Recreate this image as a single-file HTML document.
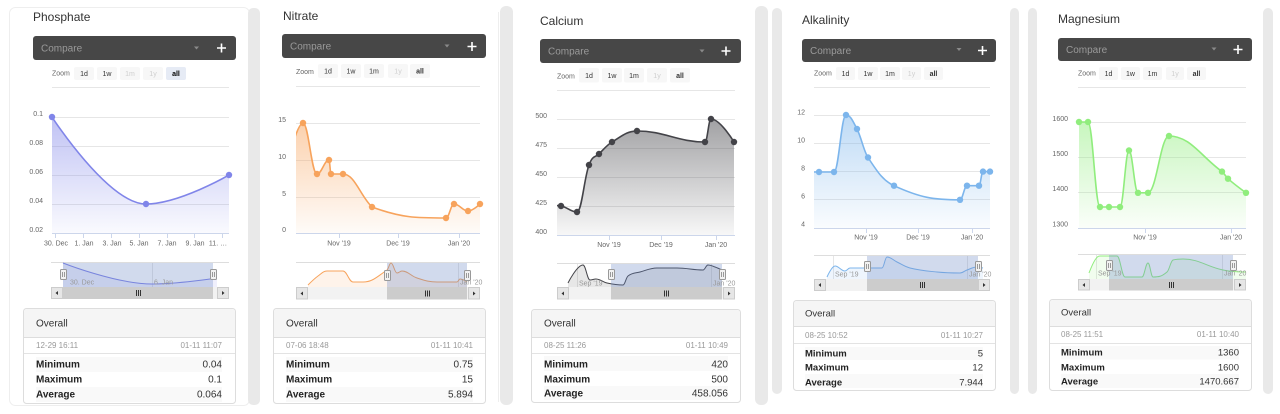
<!DOCTYPE html>
<html><head><meta charset="utf-8">
<style>
html,body{margin:0;padding:0;background:#fff;}
svg{display:block;font-family:"Liberation Sans",Arial,sans-serif;}
.t{font-size:12px;fill:#333}
.cmp{font-size:10px;fill:#9a9a9a}
.zl{font-size:7px;fill:#666}
.zb{font-size:7px;fill:#333;text-anchor:middle}
.zs{font-size:7px;fill:#000;font-weight:bold;text-anchor:middle}
.zd{font-size:7px;fill:#cfcfcf;text-anchor:middle}
.yl{font-size:7px;fill:#666;text-anchor:end}
.xl{font-size:7px;fill:#666;text-anchor:middle}
.nl{font-size:7px;fill:#999}
.ov{font-size:10px;fill:#333}
.dt{font-size:8px;fill:#999}
.dr{font-size:8px;fill:#999;text-anchor:end}
.lb{font-size:10px;font-weight:bold;fill:#222}
.vl{font-size:10px;fill:#333;text-anchor:end}
.ov2{font-size:9.5px;fill:#333}
.lb2{font-size:9.5px;font-weight:bold;fill:#222}
.vl2{font-size:9.5px;fill:#333;text-anchor:end}
</style></head><body>
<svg id="cv" xmlns="http://www.w3.org/2000/svg" width="1280" height="414" viewBox="0 0 1280 414">
<defs>
<linearGradient id="gA" x1="0" y1="0" x2="0" y2="1"><stop offset="0" stop-color="#8085e9" stop-opacity="0.5"/><stop offset="1" stop-color="#8085e9" stop-opacity="0.04"/></linearGradient>
<linearGradient id="gB" x1="0" y1="0" x2="0" y2="1"><stop offset="0" stop-color="#f7a35c" stop-opacity="0.5"/><stop offset="1" stop-color="#f7a35c" stop-opacity="0.04"/></linearGradient>
<linearGradient id="gC" x1="0" y1="0" x2="0" y2="1"><stop offset="0" stop-color="#434348" stop-opacity="0.5"/><stop offset="1" stop-color="#434348" stop-opacity="0.04"/></linearGradient>
<linearGradient id="gD" x1="0" y1="0" x2="0" y2="1"><stop offset="0" stop-color="#7cb5ec" stop-opacity="0.5"/><stop offset="1" stop-color="#7cb5ec" stop-opacity="0.04"/></linearGradient>
<linearGradient id="gE" x1="0" y1="0" x2="0" y2="1"><stop offset="0" stop-color="#90ed7d" stop-opacity="0.5"/><stop offset="1" stop-color="#90ed7d" stop-opacity="0.04"/></linearGradient>
<clipPath id="c1"><rect x="52" y="80" width="177" height="154"/></clipPath>
<clipPath id="c2"><rect x="296" y="80" width="184" height="154"/></clipPath>
<clipPath id="c3"><rect x="557" y="82" width="178" height="154"/></clipPath>
<clipPath id="c4"><rect x="814" y="80" width="176" height="148"/></clipPath>
<clipPath id="c5"><rect x="1078" y="80" width="168" height="148"/></clipPath>
</defs>

<!-- frames -->
<rect x="9.5" y="7.5" width="240" height="398" rx="6" fill="#fff" stroke="#eee"/>
<rect x="248" y="8" width="12" height="397" rx="5" fill="#e9e9e9"/>
<line x1="498.5" y1="12" x2="498.5" y2="402" stroke="#eee"/>
<rect x="500" y="6" width="13" height="399" rx="6" fill="#e9e9e9"/>
<rect x="755" y="6" width="13" height="399" rx="6" fill="#e9e9e9"/>
<rect x="772" y="8" width="10" height="386" rx="5" fill="#e9e9e9"/>
<rect x="1010" y="8" width="9" height="386" rx="5" fill="#e9e9e9"/>
<rect x="1028" y="8" width="9" height="386" rx="5" fill="#e9e9e9"/>
<rect x="1263" y="8" width="10" height="386" rx="5" fill="#e9e9e9"/>

<!-- ================= PANEL 1 : Phosphate ================= -->
<text class="t" x="33" y="21">Phosphate</text>
<rect x="33" y="36" width="203" height="24" rx="3" fill="#474747"/>
<text class="cmp" x="41" y="51.5">Compare</text>
<path d="M194 46.5h5l-2.5 3z" fill="#8a8a8a"/>
<path d="M217 48h9M221.5 43.5v9" stroke="#fff" stroke-width="1.6"/>
<text class="zl" x="52" y="75.5">Zoom</text>
<rect x="74" y="67" width="20" height="13" rx="2" fill="#f7f7f7"/>
<rect x="97" y="67" width="20" height="13" rx="2" fill="#f7f7f7"/>
<rect x="120" y="67" width="20" height="13" rx="2" fill="#f7f7f7"/>
<rect x="143" y="67" width="20" height="13" rx="2" fill="#f7f7f7"/>
<rect x="166" y="67" width="20" height="13" rx="2" fill="#e6ebf5"/>
<text class="zb" x="84" y="76">1d</text><text class="zb" x="107" y="76">1w</text><text class="zd" x="130" y="76">1m</text><text class="zd" x="153" y="76">1y</text><text class="zs" x="176" y="76">all</text>
<g stroke="#e6e6e6"><line x1="52" y1="87.5" x2="229" y2="87.5"/><line x1="52" y1="117.5" x2="229" y2="117.5"/><line x1="52" y1="146.5" x2="229" y2="146.5"/><line x1="52" y1="175.5" x2="229" y2="175.5"/><line x1="52" y1="204.5" x2="229" y2="204.5"/></g>
<text class="yl" x="43" y="116">0.1</text><text class="yl" x="43" y="145">0.08</text><text class="yl" x="43" y="174">0.06</text><text class="yl" x="43" y="203">0.04</text><text class="yl" x="43" y="232">0.02</text>
<g id="m1"></g>
<line x1="52" y1="233.5" x2="229" y2="233.5" stroke="#ccd6eb"/>
<path d="M55.5 234v4M83.5 234v4M111.5 234v4M139.5 234v4M167.5 234v4M194.5 234v4M222.5 234v4" stroke="#ccd6eb"/>
<text class="xl" x="56" y="245.5">30. Dec</text><text class="xl" x="84" y="245.5">1. Jan</text><text class="xl" x="112" y="245.5">3. Jan</text><text class="xl" x="139" y="245.5">5. Jan</text><text class="xl" x="167" y="245.5">7. Jan</text><text class="xl" x="195" y="245.5">9. Jan</text><text class="xl" x="218" y="245.5">11. …</text>
<line x1="51" y1="262.5" x2="229" y2="262.5" stroke="#ddd"/>
<line x1="152.5" y1="263" x2="152.5" y2="287" stroke="#e6e6e6"/>
<g id="n1"></g>
<rect x="63" y="263" width="150" height="24" fill="rgba(102,133,194,0.3)"/>
<text class="nl" x="70" y="284.5">30. Dec</text><text class="nl" x="154" y="284.5">6. Jan</text>
<g fill="#f2f2f2" stroke="#999"><rect x="60.5" y="269.5" width="6" height="10" rx="1"/><rect x="210.5" y="269.5" width="6" height="10" rx="1"/></g>
<path d="M62.5 272v5M64.5 272v5M212.5 272v5M214.5 272v5" stroke="#999"/>
<rect x="51" y="287" width="178" height="12" fill="#f2f2f2"/>
<rect x="63" y="287" width="150" height="12" fill="#ccc"/>
<rect x="51.5" y="287.5" width="11" height="11" fill="#e6e6e6" stroke="#ccc"/>
<rect x="217.5" y="287.5" width="11" height="11" fill="#e6e6e6" stroke="#ccc"/>
<path d="M58 291l-2.5 2 2.5 2zM222 291l2.5 2-2.5 2z" fill="#333"/>
<path d="M136.5 290v6M138.5 290v6M140.5 290v6" stroke="#333"/>
<rect x="23.5" y="308.5" width="212" height="95" rx="3" fill="#fff" stroke="#ddd"/>
<path d="M24 337V312a3 3 0 0 1 3-3H232a3 3 0 0 1 3 3V337z" fill="#f5f5f5"/>
<line x1="24" y1="337.5" x2="235" y2="337.5" stroke="#ddd"/>
<text class="ov" x="36" y="326.5">Overall</text>
<text class="dt" x="36" y="348">12-29 16:11</text><text class="dr" x="222" y="348">01-11 11:07</text>
<line x1="24" y1="353.5" x2="235" y2="353.5" stroke="#e3e3e3"/>
<rect x="36" y="357" width="186" height="15" fill="#f9f9f9"/><rect x="36" y="387" width="186" height="15" fill="#f9f9f9"/>
<text class="lb" x="36" y="367.5">Minimum</text><text class="vl" x="222" y="367.5">0.04</text>
<text class="lb" x="36" y="382.5">Maximum</text><text class="vl" x="222" y="382.5">0.1</text>
<text class="lb" x="36" y="397.5">Average</text><text class="vl" x="222" y="397.5">0.064</text>

<!-- ================= PANEL 2 : Nitrate ================= -->
<text class="t" x="283" y="20">Nitrate</text>
<rect x="282" y="34" width="204" height="24" rx="3" fill="#474747"/>
<text class="cmp" x="290" y="49.5">Compare</text>
<path d="M444.5 44.5h5l-2.5 3z" fill="#8a8a8a"/>
<path d="M467.5 46.5h9M472 42v9" stroke="#fff" stroke-width="1.6"/>
<text class="zl" x="296" y="74">Zoom</text>
<rect x="318" y="64" width="20" height="14" rx="2" fill="#f7f7f7"/>
<rect x="341" y="64" width="20" height="14" rx="2" fill="#f7f7f7"/>
<rect x="364" y="64" width="20" height="14" rx="2" fill="#f7f7f7"/>
<rect x="388" y="64" width="20" height="14" rx="2" fill="#f7f7f7"/>
<rect x="410" y="64" width="20" height="14" rx="2" fill="#f7f7f7"/>
<text class="zb" x="328" y="73.5">1d</text><text class="zb" x="351" y="73.5">1w</text><text class="zb" x="374" y="73.5">1m</text><text class="zd" x="398" y="73.5">1y</text><text class="zb" x="420" y="73.5" font-weight="bold">all</text>
<g stroke="#e6e6e6"><line x1="296" y1="86.5" x2="480" y2="86.5"/><line x1="296" y1="123.5" x2="480" y2="123.5"/><line x1="296" y1="160.5" x2="480" y2="160.5"/><line x1="296" y1="197.5" x2="480" y2="197.5"/></g>
<text class="yl" x="286" y="122">15</text><text class="yl" x="286" y="159">10</text><text class="yl" x="286" y="196">5</text><text class="yl" x="286" y="232">0</text>
<g id="m2"></g>
<line x1="296" y1="233.5" x2="480" y2="233.5" stroke="#ccd6eb"/>
<path d="M339.5 234v4M398.5 234v4M459.5 234v4" stroke="#ccd6eb"/>
<text class="xl" x="339" y="245.5">Nov '19</text><text class="xl" x="398" y="245.5">Dec '19</text><text class="xl" x="459" y="245.5">Jan '20</text>
<line x1="296" y1="262.5" x2="480" y2="262.5" stroke="#ddd"/>
<line x1="458.5" y1="263" x2="458.5" y2="287" stroke="#e6e6e6"/>
<g id="n2"></g>
<rect x="387" y="263" width="80" height="24" fill="rgba(102,133,194,0.3)"/>
<text class="nl" x="460" y="284.5">Jan '20</text>
<g fill="#f2f2f2" stroke="#999"><rect x="384.5" y="270.5" width="6" height="10" rx="1"/><rect x="464.5" y="270.5" width="6" height="10" rx="1"/></g>
<path d="M386.5 273v5M388.5 273v5M466.5 273v5M468.5 273v5" stroke="#999"/>
<rect x="296" y="287" width="184" height="12.5" fill="#f2f2f2"/>
<rect x="387" y="287" width="80" height="12.5" fill="#ccc"/>
<rect x="296.5" y="287.5" width="11" height="11.5" fill="#e6e6e6" stroke="#ccc"/>
<rect x="468.5" y="287.5" width="11" height="11.5" fill="#e6e6e6" stroke="#ccc"/>
<path d="M303 291.5l-2.5 2 2.5 2zM473 291.5l2.5 2-2.5 2z" fill="#333"/>
<path d="M425.5 290.5v6M427.5 290.5v6M429.5 290.5v6" stroke="#333"/>
<rect x="273.5" y="308.5" width="212" height="95" rx="3" fill="#fff" stroke="#ddd"/>
<path d="M274 337V312a3 3 0 0 1 3-3H482a3 3 0 0 1 3 3V337z" fill="#f5f5f5"/>
<line x1="274" y1="337.5" x2="485" y2="337.5" stroke="#ddd"/>
<text class="ov" x="286" y="326.5">Overall</text>
<text class="dt" x="286" y="348">07-06 18:48</text><text class="dr" x="473" y="348">01-11 10:41</text>
<line x1="274" y1="353.5" x2="485" y2="353.5" stroke="#e3e3e3"/>
<rect x="286" y="357" width="187" height="15" fill="#f9f9f9"/><rect x="286" y="387" width="187" height="15" fill="#f9f9f9"/>
<text class="lb" x="286" y="367.5">Minimum</text><text class="vl" x="473" y="367.5">0.75</text>
<text class="lb" x="286" y="382.5">Maximum</text><text class="vl" x="473" y="382.5">15</text>
<text class="lb" x="286" y="397.5">Average</text><text class="vl" x="473" y="397.5">5.894</text>

<!-- ================= PANEL 3 : Calcium ================= -->
<text class="t" x="540" y="25">Calcium</text>
<rect x="540" y="39" width="201" height="24" rx="3" fill="#474747"/>
<text class="cmp" x="548" y="54.5">Compare</text>
<path d="M699.5 49.5h5l-2.5 3z" fill="#8a8a8a"/>
<path d="M721.5 51h9M726 46.5v9" stroke="#fff" stroke-width="1.6"/>
<text class="zl" x="557" y="78.5">Zoom</text>
<rect x="579" y="68" width="20" height="14.5" rx="2" fill="#f7f7f7"/>
<rect x="602" y="68" width="20" height="14.5" rx="2" fill="#f7f7f7"/>
<rect x="624" y="68" width="20" height="14.5" rx="2" fill="#f7f7f7"/>
<rect x="647" y="68" width="20" height="14.5" rx="2" fill="#f7f7f7"/>
<rect x="670" y="68" width="20" height="14.5" rx="2" fill="#f7f7f7"/>
<text class="zb" x="589" y="78">1d</text><text class="zb" x="612" y="78">1w</text><text class="zb" x="634" y="78">1m</text><text class="zd" x="657" y="78">1y</text><text class="zb" x="680" y="78" font-weight="bold">all</text>
<g stroke="#e6e6e6"><line x1="557" y1="90.5" x2="735" y2="90.5"/><line x1="557" y1="119.5" x2="735" y2="119.5"/><line x1="557" y1="148.5" x2="735" y2="148.5"/><line x1="557" y1="177.5" x2="735" y2="177.5"/><line x1="557" y1="206.5" x2="735" y2="206.5"/></g>
<text class="yl" x="547" y="118">500</text><text class="yl" x="547" y="147">475</text><text class="yl" x="547" y="176">450</text><text class="yl" x="547" y="205">425</text><text class="yl" x="547" y="234">400</text>
<g id="m3"></g>
<line x1="557" y1="235.5" x2="735" y2="235.5" stroke="#ccd6eb"/>
<path d="M609.5 236v4M661.5 236v4M716.5 236v4" stroke="#ccd6eb"/>
<text class="xl" x="609" y="247">Nov '19</text><text class="xl" x="661" y="247">Dec '19</text><text class="xl" x="716" y="247">Jan '20</text>
<line x1="557" y1="263.5" x2="735" y2="263.5" stroke="#ddd"/>
<line x1="577.5" y1="264" x2="577.5" y2="287" stroke="#e6e6e6"/><line x1="711.5" y1="264" x2="711.5" y2="287" stroke="#e6e6e6"/>
<g id="n3"></g>
<rect x="611" y="264" width="111" height="23" fill="rgba(102,133,194,0.3)"/>
<text class="nl" x="579" y="285.5">Sep '19</text><text class="nl" x="713" y="285.5">Jan '20</text>
<g fill="#f2f2f2" stroke="#999"><rect x="608.5" y="269.5" width="6" height="10" rx="1"/><rect x="719.5" y="269.5" width="6" height="10" rx="1"/></g>
<path d="M610.5 272v5M612.5 272v5M721.5 272v5M723.5 272v5" stroke="#999"/>
<rect x="557" y="287" width="178" height="12.5" fill="#f2f2f2"/>
<rect x="611" y="287" width="111" height="12.5" fill="#ccc"/>
<rect x="557.5" y="287.5" width="11" height="11.5" fill="#e6e6e6" stroke="#ccc"/>
<rect x="723.5" y="287.5" width="11" height="11.5" fill="#e6e6e6" stroke="#ccc"/>
<path d="M564 291.5l-2.5 2 2.5 2zM728 291.5l2.5 2-2.5 2z" fill="#333"/>
<path d="M664.5 290.5v6M666.5 290.5v6M668.5 290.5v6" stroke="#333"/>
<rect x="531.5" y="309.5" width="209" height="93" rx="3" fill="#fff" stroke="#ddd"/>
<path d="M532 337V313a3 3 0 0 1 3-3H737a3 3 0 0 1 3 3V337z" fill="#f5f5f5"/>
<line x1="532" y1="337.5" x2="740" y2="337.5" stroke="#ddd"/>
<text class="ov" x="544" y="326.5">Overall</text>
<text class="dt" x="544" y="348">08-25 11:26</text><text class="dr" x="728" y="348">01-11 10:49</text>
<line x1="532" y1="353.5" x2="740" y2="353.5" stroke="#e3e3e3"/>
<rect x="544" y="356" width="184" height="15" fill="#f9f9f9"/><rect x="544" y="386" width="184" height="14" fill="#f9f9f9"/>
<text class="lb" x="544" y="367.5">Minimum</text><text class="vl" x="728" y="367.5">420</text>
<text class="lb" x="544" y="382.5">Maximum</text><text class="vl" x="728" y="382.5">500</text>
<text class="lb" x="544" y="396.5">Average</text><text class="vl" x="728" y="396.5">458.056</text>

<!-- ================= PANEL 4 : Alkalinity ================= -->
<text class="t" x="802" y="24">Alkalinity</text>
<rect x="802" y="39" width="194" height="23" rx="3" fill="#474747"/>
<text class="cmp" x="810" y="54">Compare</text>
<path d="M956.5 48h5l-2.5 3z" fill="#8a8a8a"/>
<path d="M978 50.5h9M982.5 46v9" stroke="#fff" stroke-width="1.6"/>
<text class="zl" x="814" y="75.5">Zoom</text>
<rect x="836" y="67" width="19" height="13" rx="2" fill="#f7f7f7"/>
<rect x="858" y="67" width="20" height="13" rx="2" fill="#f7f7f7"/>
<rect x="880" y="67" width="20" height="13" rx="2" fill="#f7f7f7"/>
<rect x="902" y="67" width="19" height="13" rx="2" fill="#f7f7f7"/>
<rect x="924" y="67" width="19" height="13" rx="2" fill="#f7f7f7"/>
<text class="zb" x="845.5" y="76">1d</text><text class="zb" x="868" y="76">1w</text><text class="zb" x="890" y="76">1m</text><text class="zd" x="911.5" y="76">1y</text><text class="zb" x="933.5" y="76" font-weight="bold">all</text>
<g stroke="#e6e6e6"><line x1="814" y1="87.5" x2="990" y2="87.5"/><line x1="814" y1="115.5" x2="990" y2="115.5"/><line x1="814" y1="143.5" x2="990" y2="143.5"/><line x1="814" y1="171.5" x2="990" y2="171.5"/><line x1="814" y1="199.5" x2="990" y2="199.5"/></g>
<text class="yl" x="805" y="114.5">12</text><text class="yl" x="805" y="142.5">10</text><text class="yl" x="805" y="170.5">8</text><text class="yl" x="805" y="198.5">6</text><text class="yl" x="805" y="226.5">4</text>
<g id="m4"></g>
<line x1="814" y1="228.5" x2="990" y2="228.5" stroke="#ccd6eb"/>
<path d="M866.5 229v4M918.5 229v4M972.5 229v4" stroke="#ccd6eb"/>
<text class="xl" x="866" y="239.5">Nov '19</text><text class="xl" x="918" y="239.5">Dec '19</text><text class="xl" x="972" y="239.5">Jan '20</text>
<line x1="814" y1="255.5" x2="990" y2="255.5" stroke="#ddd"/>
<line x1="833.5" y1="256" x2="833.5" y2="279" stroke="#e6e6e6"/><line x1="967.5" y1="256" x2="967.5" y2="279" stroke="#e6e6e6"/>
<g id="n4"></g>
<rect x="867" y="256" width="111" height="23" fill="rgba(102,133,194,0.3)"/>
<text class="nl" x="835" y="276.5">Sep '19</text><text class="nl" x="969" y="276.5">Jan '20</text>
<g fill="#f2f2f2" stroke="#999"><rect x="864.5" y="261.5" width="6" height="10" rx="1"/><rect x="975.5" y="261.5" width="6" height="10" rx="1"/></g>
<path d="M866.5 264v5M868.5 264v5M977.5 264v5M979.5 264v5" stroke="#999"/>
<rect x="814" y="279" width="176" height="12" fill="#f2f2f2"/>
<rect x="867" y="279" width="111" height="12" fill="#ccc"/>
<rect x="814.5" y="279.5" width="11" height="11" fill="#e6e6e6" stroke="#ccc"/>
<rect x="978.5" y="279.5" width="11" height="11" fill="#e6e6e6" stroke="#ccc"/>
<path d="M821 283l-2.5 2 2.5 2zM983 283l2.5 2-2.5 2z" fill="#333"/>
<path d="M920.5 282v6M922.5 282v6M924.5 282v6" stroke="#333"/>
<rect x="793.5" y="300.5" width="202" height="90" rx="3" fill="#fff" stroke="#ddd"/>
<path d="M794 326V304a3 3 0 0 1 3-3H992a3 3 0 0 1 3 3V326z" fill="#f5f5f5"/>
<line x1="794" y1="326.5" x2="995" y2="326.5" stroke="#ddd"/>
<text class="ov2" x="805" y="316.5">Overall</text>
<text class="dt" x="805" y="338">08-25 10:52</text><text class="dr" x="983" y="338">01-11 10:27</text>
<line x1="794" y1="343.5" x2="995" y2="343.5" stroke="#e3e3e3"/>
<rect x="805" y="347" width="178" height="13" fill="#f9f9f9"/><rect x="805" y="374" width="178" height="14" fill="#f9f9f9"/>
<text class="lb2" x="805" y="356.5">Minimum</text><text class="vl2" x="983" y="356.5">5</text>
<text class="lb2" x="805" y="370.5">Maximum</text><text class="vl2" x="983" y="370.5">12</text>
<text class="lb2" x="805" y="385.5">Average</text><text class="vl2" x="983" y="385.5">7.944</text>

<!-- ================= PANEL 5 : Magnesium ================= -->
<text class="t" x="1058" y="23">Magnesium</text>
<rect x="1058" y="38" width="194" height="23" rx="3" fill="#474747"/>
<text class="cmp" x="1066" y="53">Compare</text>
<path d="M1211.5 47.5h5l-2.5 3z" fill="#8a8a8a"/>
<path d="M1233.5 49.5h9M1238 45v9" stroke="#fff" stroke-width="1.6"/>
<text class="zl" x="1078" y="75.5">Zoom</text>
<rect x="1099" y="67" width="19" height="13" rx="2" fill="#f7f7f7"/>
<rect x="1121" y="67" width="19" height="13" rx="2" fill="#f7f7f7"/>
<rect x="1143" y="67" width="19" height="13" rx="2" fill="#f7f7f7"/>
<rect x="1166" y="67" width="18" height="13" rx="2" fill="#f7f7f7"/>
<rect x="1187" y="67" width="19" height="13" rx="2" fill="#f7f7f7"/>
<text class="zb" x="1108.5" y="76">1d</text><text class="zb" x="1130.5" y="76">1w</text><text class="zb" x="1152.5" y="76">1m</text><text class="zd" x="1175" y="76">1y</text><text class="zb" x="1196.5" y="76" font-weight="bold">all</text>
<g stroke="#e6e6e6"><line x1="1078" y1="87.5" x2="1246" y2="87.5"/><line x1="1078" y1="122.5" x2="1246" y2="122.5"/><line x1="1078" y1="157.5" x2="1246" y2="157.5"/><line x1="1078" y1="192.5" x2="1246" y2="192.5"/></g>
<text class="yl" x="1068" y="121">1600</text><text class="yl" x="1068" y="156">1500</text><text class="yl" x="1068" y="191">1400</text><text class="yl" x="1068" y="226.5">1300</text>
<g id="m5"></g>
<line x1="1078" y1="228.5" x2="1246" y2="228.5" stroke="#ccd6eb"/>
<path d="M1145.5 229v4M1231.5 229v4" stroke="#ccd6eb"/>
<text class="xl" x="1145" y="239.5">Nov '19</text><text class="xl" x="1231" y="239.5">Jan '20</text>
<line x1="1078" y1="254.5" x2="1246" y2="254.5" stroke="#ddd"/>
<line x1="1096.5" y1="255" x2="1096.5" y2="279" stroke="#e6e6e6"/><line x1="1222.5" y1="255" x2="1222.5" y2="279" stroke="#e6e6e6"/>
<g id="n5"></g>
<rect x="1109" y="255" width="124" height="24" fill="rgba(102,133,194,0.3)"/>
<text class="nl" x="1098" y="275.5">Sep '19</text><text class="nl" x="1224" y="275.5">Jan '20</text>
<g fill="#f2f2f2" stroke="#999"><rect x="1106.5" y="260.5" width="6" height="10" rx="1"/><rect x="1230.5" y="260.5" width="6" height="10" rx="1"/></g>
<path d="M1108.5 263v5M1110.5 263v5M1232.5 263v5M1234.5 263v5" stroke="#999"/>
<rect x="1078" y="279" width="168" height="11.5" fill="#f2f2f2"/>
<rect x="1109" y="279" width="124" height="11.5" fill="#ccc"/>
<rect x="1078.5" y="279.5" width="11" height="10.5" fill="#e6e6e6" stroke="#ccc"/>
<rect x="1234.5" y="279.5" width="11" height="10.5" fill="#e6e6e6" stroke="#ccc"/>
<path d="M1085 283l-2.5 2 2.5 2zM1239 283l2.5 2-2.5 2z" fill="#333"/>
<path d="M1169.5 282v6M1171.5 282v6M1173.5 282v6" stroke="#333"/>
<rect x="1049.5" y="299.5" width="202" height="91" rx="3" fill="#fff" stroke="#ddd"/>
<path d="M1050 326V303a3 3 0 0 1 3-3H1248a3 3 0 0 1 3 3V326z" fill="#f5f5f5"/>
<line x1="1050" y1="326.5" x2="1251" y2="326.5" stroke="#ddd"/>
<text class="ov2" x="1061" y="315.5">Overall</text>
<text class="dt" x="1061" y="337">08-25 11:51</text><text class="dr" x="1239" y="337">01-11 10:40</text>
<line x1="1050" y1="343.5" x2="1251" y2="343.5" stroke="#e3e3e3"/>
<rect x="1061" y="346" width="178" height="13.5" fill="#f9f9f9"/><rect x="1061" y="374" width="178" height="14" fill="#f9f9f9"/>
<text class="lb2" x="1061" y="355.5">Minimum</text><text class="vl2" x="1239" y="355.5">1360</text>
<text class="lb2" x="1061" y="370.5">Maximum</text><text class="vl2" x="1239" y="370.5">1600</text>
<text class="lb2" x="1061" y="384.5">Average</text><text class="vl2" x="1239" y="384.5">1470.667</text>
</svg>
<script>
(function(){
var NS='http://www.w3.org/2000/svg';
function mk(t,a,p){var e=document.createElementNS(NS,t);for(var k in a)e.setAttribute(k,a[k]);p.appendChild(e);return e;}
function sp(p){
  var n=p.length,c=[];
  for(var i=0;i<n;i++){
    var x=p[i][0],y=p[i][1];
    if(i==0||i==n-1){c.push([x,y,x,y]);continue;}
    var lx=p[i-1][0],ly=p[i-1][1],nx=p[i+1][0],ny=p[i+1][1];
    var lcx=(1.5*x+lx)/2.5,lcy=(1.5*y+ly)/2.5,rcx=(1.5*x+nx)/2.5,rcy=(1.5*y+ny)/2.5;
    var cor=0;
    if(rcx!==lcx)cor=((rcy-lcy)*(rcx-x))/(rcx-lcx)+y-rcy;
    lcy+=cor;rcy+=cor;
    if(lcy>ly&&lcy>y){lcy=Math.max(ly,y);rcy=2*y-lcy;}
    else if(lcy<ly&&lcy<y){lcy=Math.min(ly,y);rcy=2*y-lcy;}
    if(rcy>ny&&rcy>y){rcy=Math.max(ny,y);lcy=2*y-rcy;}
    else if(rcy<ny&&rcy<y){rcy=Math.min(ny,y);lcy=2*y-rcy;}
    c.push([lcx,lcy,rcx,rcy]);
  }
  var d='M'+p[0][0]+' '+p[0][1];
  for(var j=1;j<n;j++){
    d+=' C'+c[j-1][2].toFixed(2)+' '+c[j-1][3].toFixed(2)+' '+c[j][0].toFixed(2)+' '+c[j][1].toFixed(2)+' '+p[j][0]+' '+p[j][1];
  }
  return d;
}
var M=[
['m1','#8085e9','gA',233.5,52,229,[[52,117],[146,204],[229,175]]],
['m2','#f7a35c','gB',233.5,296,480,[[291,150],[303,123],[317,174],[329,160],[331,174],[343,174],[372,207],[446,218],[454,204],[468,211],[480,204]]],
['m3','#434348','gC',235.5,557,735,[[545,205],[561,206],[577,212],[589,165],[599,154],[612,142],[637,131],[705,142],[711,119],[734,142]]],
['m4','#7cb5ec','gD',228.5,814,990,[[800,172],[819,172],[834,172],[846,115],[857,129],[868,157.5],[894,185.7],[960,199.8],[967,185.7],[979,185.7],[983,171.6],[990,171.6]]],
['m5','#90ed7d','gE',228.5,1078,1246,[[1079,122],[1088,122],[1100,207],[1109,207],[1120,207],[1129,150.5],[1138,192.8],[1148,192.8],[1169,136],[1222,171.6],[1228,178.7],[1246,192.8]]]
];
M.forEach(function(s){
  var g=document.getElementById(s[0]),p=s[6],d=sp(p),L=p[p.length-1],F=p[0];
  var cg=mk('g',{'clip-path':'url(#c'+s[0].slice(1)+')'},g);
  mk('path',{d:d+' L'+L[0]+' '+s[3]+' L'+F[0]+' '+s[3]+' Z',fill:'url(#'+s[2]+')'},cg);
  mk('path',{d:d,fill:'none',stroke:s[1],'stroke-width':1.6,'stroke-linejoin':'round'},cg);
  p.forEach(function(q){if(q[0]>=s[4]-1&&q[0]<=s[5]+1)mk('circle',{cx:q[0],cy:q[1],r:3.2,fill:s[1]},g);});
});
var N=[
['n1','#8085e9',287,[[63,263],[152,284],[217,278]]],
['n2','#f7a35c',287,[[308,285],[318,276],[327,271],[343,271],[353,282],[363,282],[387,270],[391,263],[397,273],[402,271],[417,278],[437,282],[457,282],[460,279],[467,282]]],
['n3','#434348',287,[[568,283],[583,265],[590,280],[596,279],[600,280],[607,283],[623,285],[628,276],[640,272],[657,268],[677,268],[703,270],[708,265],[715,267],[722,270]]],
['n4','#7cb5ec',279,[[827,277],[835,266],[845,271],[850,268],[882,268],[887,257],[897,262],[910,268],[937,272],[960,273],[967,270],[977,267],[983,268]]],
['n5','#90ed7d',279,[[1089,273],[1095,260],[1100,256],[1117,256],[1125,277],[1142,277],[1148,263],[1153,277],[1167,272],[1173,260],[1183,259],[1223,270],[1246,272]]]
];
N.forEach(function(s){
  var g=document.getElementById(s[0]),p=s[3],d=sp(p);
  mk('path',{d:d+' L'+p[p.length-1][0]+' '+s[2]+' L'+p[0][0]+' '+s[2]+' Z',fill:s[1],'fill-opacity':0.13},g);
  mk('path',{d:d,fill:'none',stroke:s[1],'stroke-width':1},g);
});
})();
</script>
</body></html>
